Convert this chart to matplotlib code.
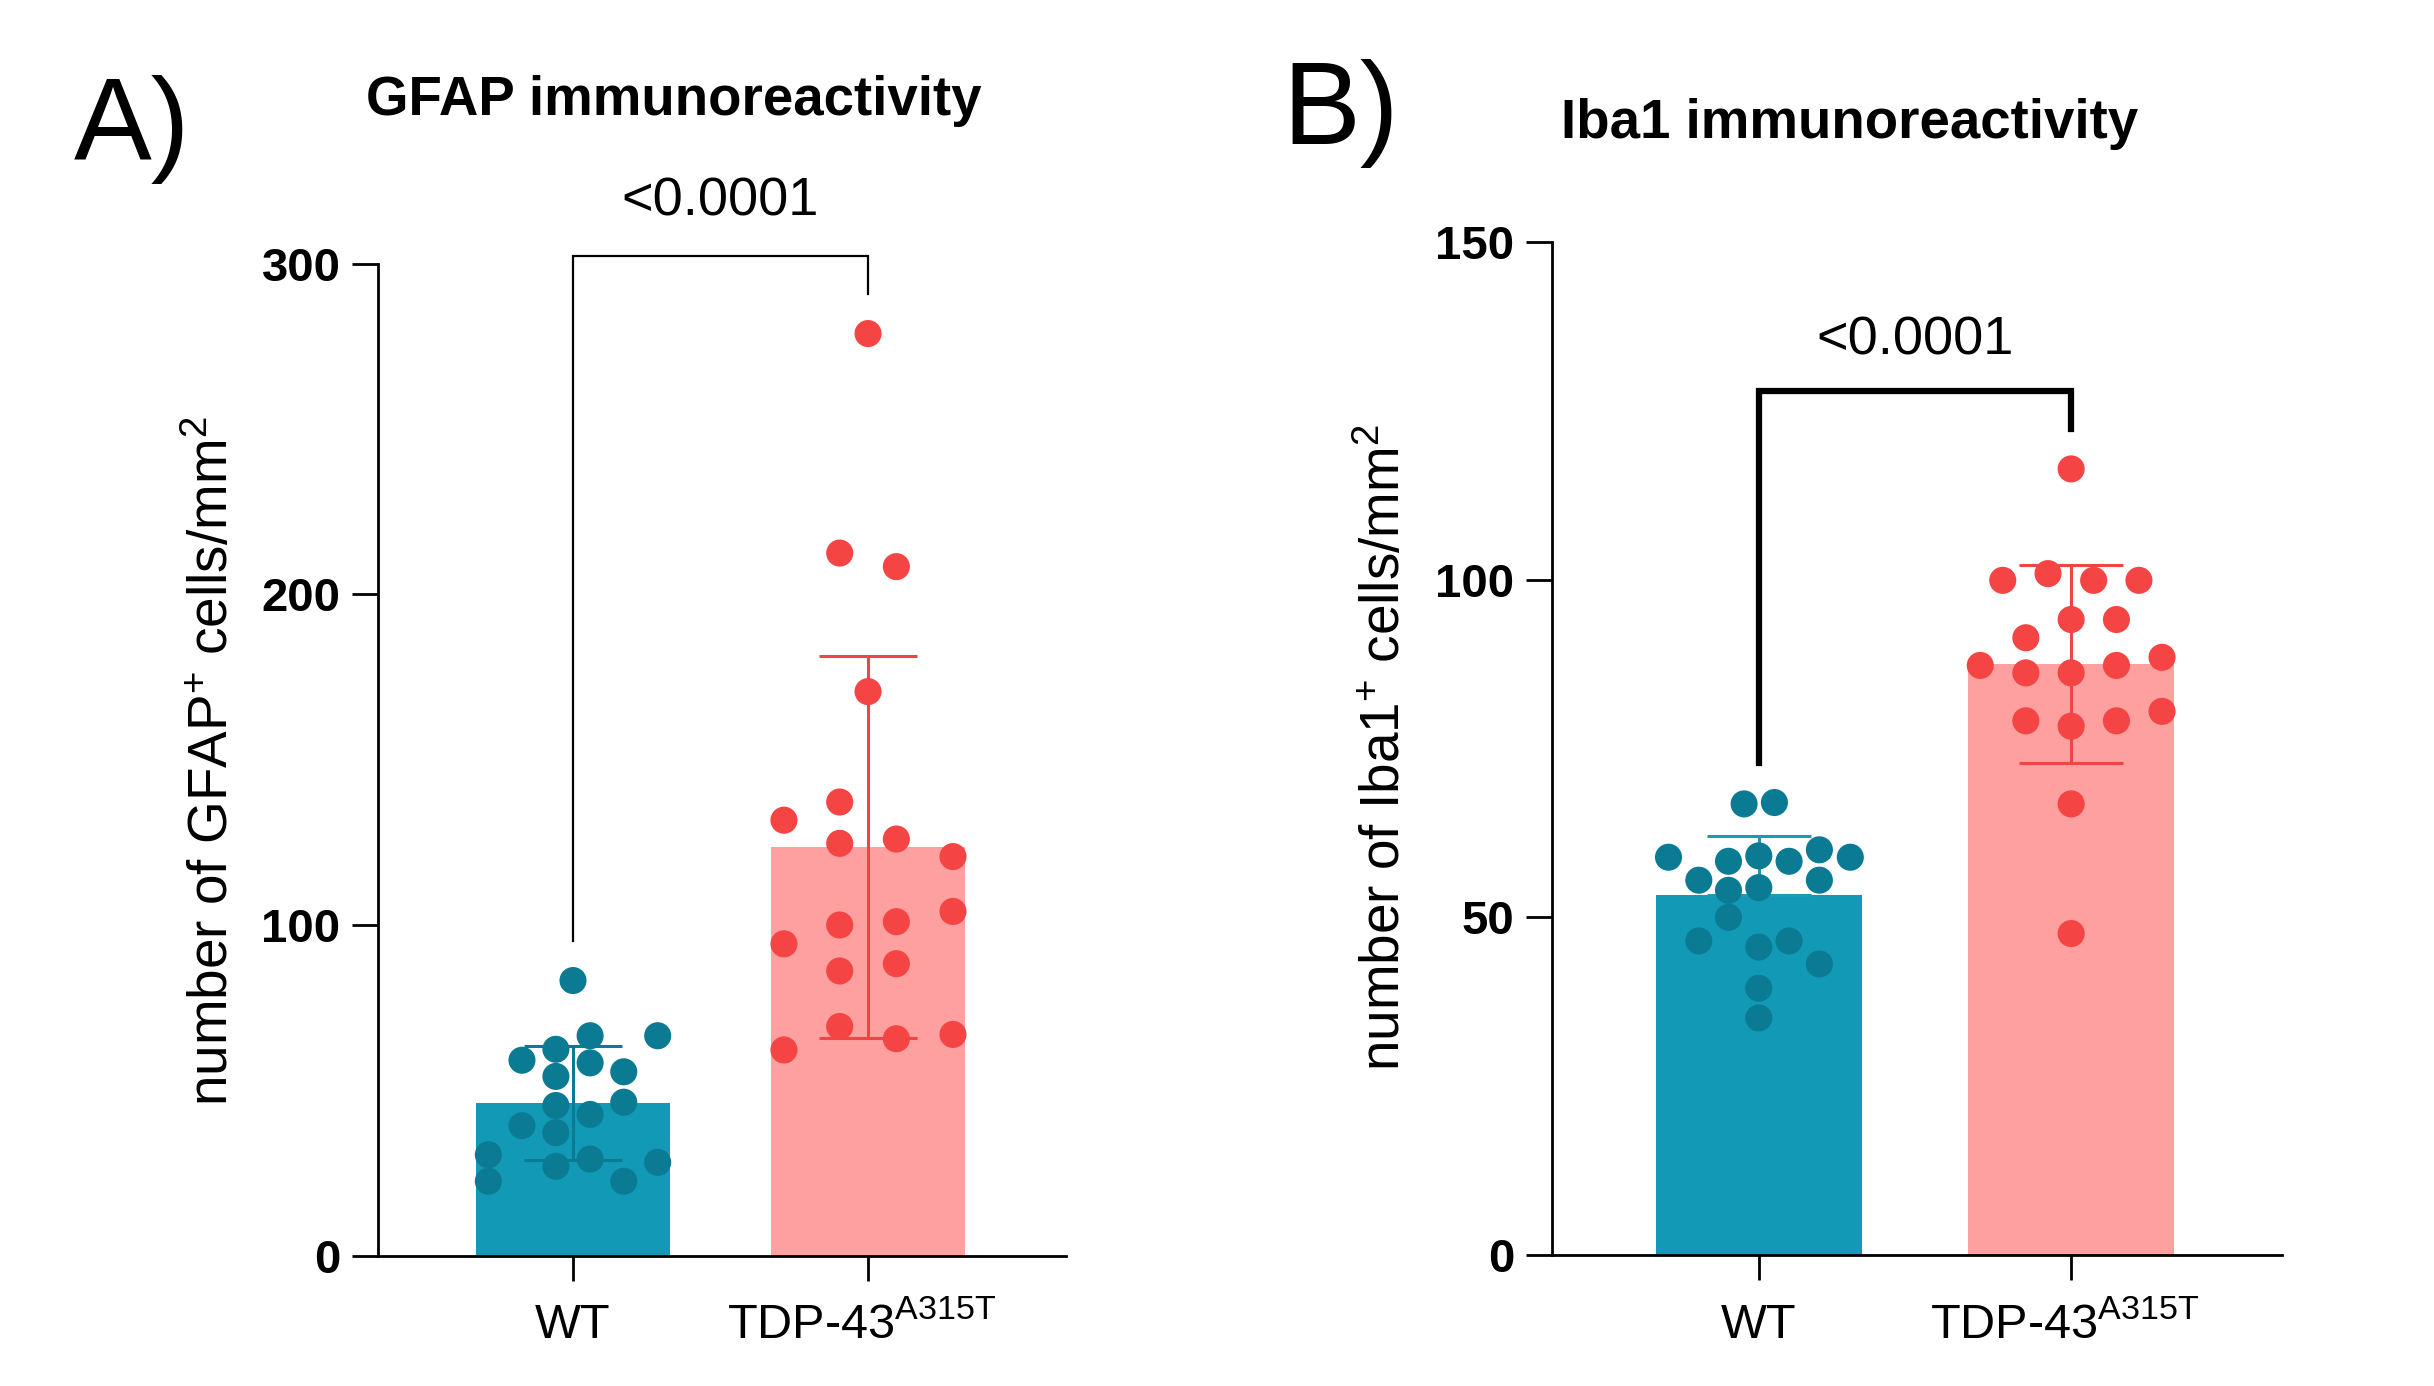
import numpy as np
import matplotlib
matplotlib.use("Agg")
import matplotlib.pyplot as plt
import matplotlib.transforms as mtransforms

plt.rcParams['font.family'] = ['Liberation Sans', 'DejaVu Sans']
plt.rcParams['mathtext.fontset'] = 'custom'
plt.rcParams['mathtext.rm'] = 'Liberation Sans'
plt.rcParams['mathtext.it'] = 'Liberation Sans'
plt.rcParams['mathtext.bf'] = 'Liberation Sans:bold'
plt.rcParams['mathtext.default'] = 'regular'

# ---------------- data ----------------
groups = ["WT", r"TDP-43$^{A315T}$"]

gfap_wt = [83.2, 66.5, 66.5, 62.4, 59.1, 58.3, 54.2, 55.6, 45.4, 46.4, 42.7,
           39.3, 37.2, 30.5, 29.2, 27.0, 28.2, 22.5, 22.5]
gfap_tdp = [278.9, 212.5, 208.4, 170.6, 137.2, 131.7, 124.7, 126.0, 120.7, 104.1,
            100.0, 101.0, 94.3, 88.3, 86.1, 69.3, 65.6, 66.9, 62.2]
iba_wt = [66.8, 67.0, 58.9, 58.3, 59.1, 58.3, 60.0, 58.9, 55.5, 55.5, 54.0,
          54.4, 50.0, 46.5, 46.5, 45.6, 43.1, 39.5, 35.1]
iba_tdp = [116.4, 99.9, 100.9, 99.9, 99.9, 94.1, 94.1, 91.4, 87.3, 86.2, 86.2,
           87.3, 88.5, 79.1, 78.3, 79.1, 80.5, 66.8, 47.6]

# horizontal scatter offsets (column layout of the dot plots)
gfap_wt_off = [0, 0.058, 0.287, -0.058, -0.173, 0.058, -0.058, 0.172, -0.058, 0.172,
               0.058, -0.173, -0.058, -0.287, 0.058, -0.058, 0.287, -0.287, 0.172]
gfap_tdp_off = [0, -0.096, 0.096, 0, -0.096, -0.285, -0.096, 0.096, 0.288, 0.288,
                -0.096, 0.096, -0.285, 0.096, -0.096, -0.096, 0.096, 0.288, -0.285]
iba_wt_off = [-0.047, 0.05, -0.289, -0.097, 0, 0.097, 0.194, 0.293, -0.192, 0.194,
              -0.097, 0, -0.097, -0.192, 0.097, 0, 0.194, 0, 0]
iba_tdp_off = [0, -0.219, -0.074, 0.072, 0.217, 0, 0.145, -0.145, -0.291, -0.145, 0,
               0.145, 0.291, -0.145, 0, 0.145, 0.291, 0, 0]

p_text = "<0.0001"

# ---------------- style ----------------
W, H = 2434, 1386
DPI = 100
bar_colors = ["#1299B5", "#FDA09F"]
dot_colors = ["#0B7B94", "#F44443"]

fig = plt.figure(figsize=(W / DPI, H / DPI), dpi=DPI)
fig.patch.set_facecolor("white")


def fx(px):
    return px / W


def fy(py):
    return 1 - py / H


def panel(ax, wt, tdp, wt_off, tdp_off, xlim, ylim, yticks, bracket, bracket_lw,
          err_colors, wt_lower, ylabel, ylabel_pos, title, title_pos, letter, letter_pos):
    ax.set_xlim(*xlim)
    ax.set_ylim(*ylim)
    data = [np.array(wt), np.array(tdp)]
    offs = [np.array(wt_off), np.array(tdp_off)]
    xs = np.arange(2)
    means = [d.mean() for d in data]
    sds = [d.std(ddof=1) for d in data]
    ax.bar(xs, means, width=0.66, color=bar_colors, zorder=1)
    unit_px = ax.get_position().width * W / (xlim[1] - xlim[0])
    cap_pt = 0.165 * unit_px * 72 / DPI
    for i in range(2):
        lower = sds[i] if (i == 1 or wt_lower) else 0
        ax.errorbar(xs[i], means[i], yerr=[[lower], [sds[i]]], color=err_colors[i],
                    lw=2.2, capsize=cap_pt, capthick=2.2, zorder=2)
        ax.scatter(xs[i] + offs[i], data[i], s=380, color=dot_colors[i],
                   edgecolors='none', zorder=3, clip_on=False)
    # bracket
    top, lleg, rleg, ty = bracket
    ax.plot([0, 0, 1, 1], [lleg, top, top, rleg], color='black', lw=bracket_lw,
            solid_joinstyle='miter', clip_on=False, zorder=4)
    ax.text(0.5, ty, p_text, ha='center', va='center', fontsize=39, clip_on=False)

    for s in ['top', 'right']:
        ax.spines[s].set_visible(False)
    for s in ['left', 'bottom']:
        ax.spines[s].set_linewidth(2.0)
    ax.set_yticks(yticks)
    ax.set_yticklabels([str(t) for t in yticks], fontsize=34, fontweight='bold')
    ax.tick_params(axis='y', length=19, width=2.0, pad=8)
    ax.set_xticks(xs)
    ax.set_xticklabels([])
    ax.tick_params(axis='x', length=18, width=2.0)
    trans = mtransforms.blended_transform_factory(ax.transData, fig.transFigure)
    for i in range(2):
        ax.text(xs[i] - (0.02 if i == 1 else 0), fy(1338), groups[i], transform=trans,
                ha='center', va='baseline', fontsize=35)
    fig.text(fx(ylabel_pos[0]), fy(ylabel_pos[1]), ylabel, rotation=90,
             ha='center', va='center', fontsize=39.5)
    fig.text(fx(title_pos[0]), fy(title_pos[1]), title, ha='center', va='center',
             fontsize=39.3, fontweight='bold')
    fig.text(fx(letter_pos[0]), fy(letter_pos[1]), letter, ha='center', va='center',
             fontsize=84)


axA = fig.add_axes([fx(378), fy(1255.6), fx(1066 - 378), (1255.6 - 263.8) / H])
axB = fig.add_axes([fx(1552), fy(1255), fx(2282 - 1552), (1255 - 242) / H])

panel(axA, gfap_wt, gfap_tdp, gfap_wt_off, gfap_tdp_off, (-0.661, 1.671), (0, 300),
      [0, 100, 200, 300], (302.4, 95.1, 291.0, 318.7), 1.6,
      ["#0B7B94", "#EE4545"], True,
      r"number of GFAP$^{+}$ cells/mm$^{2}$", (214, 761),
      "GFAP immunoreactivity", (674, 101), "A)", (132, 129))

panel(axB, iba_wt, iba_tdp, iba_wt_off, iba_tdp_off, (-0.662, 1.675), (0, 150),
      [0, 50, 100, 150], (128.0, 72.9, 122.3, 135.4), 4.5,
      ["#1A9BB6", "#EE4545"], False,
      r"number of Iba1$^{+}$ cells/mm$^{2}$", (1386, 747),
      "Iba1 immunoreactivity", (1850, 124), "B)", (1341, 113))

fig.savefig("out.png", dpi=DPI, facecolor="white")
